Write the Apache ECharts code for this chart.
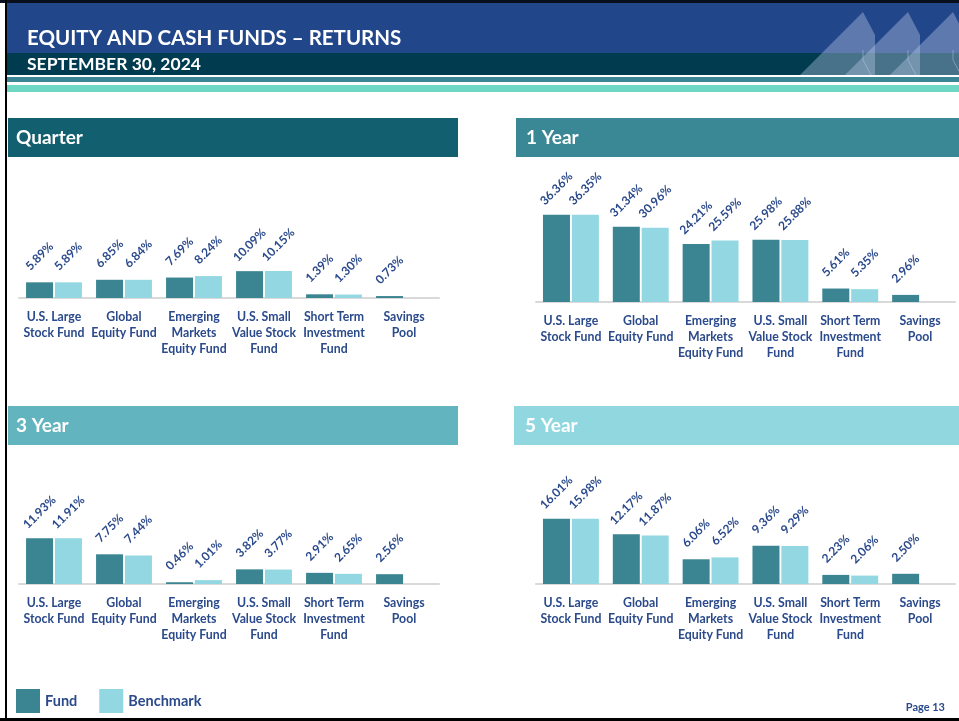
<!DOCTYPE html>
<html>
<head>
<meta charset="utf-8">
<script src="https://cdn.jsdelivr.net/npm/echarts@6/dist/echarts.min.js"></script>
<style>
html,body{margin:0;padding:0;background:#fff;}
#main{width:959px;height:721px;}
</style>
</head>
<body>
<div id="main"></div>
<script>
var categories = ['U.S. Large\nStock Fund', 'Global\nEquity Fund', 'Emerging\nMarkets\nEquity Fund', 'U.S. Small\nValue Stock\nFund', 'Short Term\nInvestment\nFund', 'Savings\nPool'];
var quarterFund = [5.89, 6.85, 7.69, 10.09, 1.39, 0.73];
var quarterBench = [5.89, 6.84, 8.24, 10.15, 1.30, '-'];
var oneYearFund = [36.36, 31.34, 24.21, 25.98, 5.61, 2.96];
var oneYearBench = [36.35, 30.96, 25.59, 25.88, 5.35, '-'];
var threeYearFund = [11.93, 7.75, 0.46, 3.82, 2.91, 2.56];
var threeYearBench = [11.91, 7.44, 1.01, 3.77, 2.65, '-'];
var fiveYearFund = [16.01, 12.17, 6.06, 9.36, 2.23, 2.50];
var fiveYearBench = [15.98, 11.87, 6.52, 9.29, 2.06, '-'];
var panelTitles = ['Quarter', '1 Year', '3 Year', '5 Year'];

var dom = document.getElementById('main');
var myChart = echarts.init(dom);
var txtColor = '#2B4A8B';
var fundColor = '#3A8591';
var benchColor = '#92D7E1';
var font = 'Lato, "Open Sans", sans-serif';

// panel layout: header rect, grid box, y max
var panels = [
    {hx: 8, hy: 118, hw: 450, hc: '#125F70', tx: 16, grid: {left: 19, width: 420, top: 165, height: 133}, max: 50, fund: quarterFund, bench: quarterBench},
    {hx: 516, hy: 118, hw: 443, hc: '#3A8795', tx: 526, grid: {left: 536, width: 419, top: 206, height: 96}, max: 40, fund: oneYearFund, bench: oneYearBench},
    {hx: 8, hy: 406, hw: 450, hc: '#62B4BE', tx: 16, grid: {left: 19, width: 420, top: 469, height: 115}, max: 30, fund: threeYearFund, bench: threeYearBench},
    {hx: 514, hy: 406, hw: 445, hc: '#90D7E0', tx: 525, grid: {left: 536, width: 419, top: 482, height: 102}, max: 25, fund: fiveYearFund, bench: fiveYearBench}
];

var grids = [], xAxes = [], yAxes = [], series = [];
var graphics = [
    {type: 'rect', shape: {x: 0, y: 0, width: 959, height: 3}, style: {fill: '#0A0F1E'}, z: 0},
    {type: 'rect', shape: {x: 7, y: 3, width: 952, height: 50}, style: {fill: '#22468A'}, z: 0},
    {type: 'rect', shape: {x: 7, y: 53, width: 952, height: 22}, style: {fill: '#013B4F'}, z: 0},
    {type: 'rect', shape: {x: 7, y: 77, width: 952, height: 5}, style: {fill: '#3A8694'}, z: 0},
    {type: 'rect', shape: {x: 7, y: 85, width: 952, height: 7}, style: {fill: '#6ED8C4'}, z: 0},
    {type: 'rect', shape: {x: 5, y: 0, width: 2, height: 721}, style: {fill: '#000'}, z: 1},
    {type: 'rect', shape: {x: 0, y: 718, width: 959, height: 3}, style: {fill: '#000'}, z: 1},
    {type: 'text', x: 27, y: 38, z: 2, style: {text: 'EQUITY AND CASH FUNDS – RETURNS', fill: '#fff', font: 'bold 20.5px ' + font, verticalAlign: 'middle'}},
    {type: 'text', x: 27, y: 64, z: 2, style: {text: 'SEPTEMBER 30, 2024', fill: '#fff', font: 'bold 17.5px ' + font, verticalAlign: 'middle'}},
    {type: 'text', x: 945, y: 707, z: 2, style: {text: 'Page 13', fill: txtColor, font: 'bold 11px ' + font, align: 'right', verticalAlign: 'middle'}}
];
// logo shapes
[863, 908, 953].forEach(function (p) {
    graphics.push({type: 'polygon', z: 1, shape: {points: [[p - 63, 75], [p, 12], [p + 12, 35], [p + 12, 75]]},
        style: {fill: 'rgba(190,205,235,0.38)'}});
    graphics.push({type: 'polyline', z: 1, shape: {points: [[p, 50], [p, 60], [p + 8, 75]]},
        style: {stroke: 'rgba(190,205,235,0.45)', lineWidth: 1, fill: null}});
});

panels.forEach(function (p, i) {
    graphics.push({type: 'rect', z: 0, shape: {x: p.hx, y: p.hy, width: p.hw, height: 39}, style: {fill: p.hc}});
    graphics.push({type: 'text', z: 2, x: p.tx, y: p.hy + 20, style: {text: panelTitles[i], fill: '#fff', font: 'bold 19px ' + font, verticalAlign: 'middle'}});
    grids.push(p.grid);
    xAxes.push({
        type: 'category', gridIndex: i, data: categories,
        axisLine: {lineStyle: {color: '#D9D9D9', width: 2}},
        axisTick: {show: false},
        axisLabel: {interval: 0, margin: 11, color: txtColor, fontFamily: font, fontWeight: 'bold', fontSize: 12.3, lineHeight: 16}
    });
    yAxes.push({type: 'value', gridIndex: i, min: 0, max: p.max, show: false, splitLine: {show: false}});
    var lbl = {
        show: true, position: 'top', distance: 26, rotate: 45,
        align: 'center', verticalAlign: 'middle',
        color: txtColor, fontFamily: font, fontWeight: 'bold', fontSize: 12,
        formatter: function (d) { return d.value.toFixed(2) + '%'; }
    };
    series.push({name: 'Fund', type: 'bar', xAxisIndex: i, yAxisIndex: i, data: p.fund,
        barWidth: 27, barGap: '7%', itemStyle: {color: fundColor}, label: lbl});
    series.push({name: 'Benchmark', type: 'bar', xAxisIndex: i, yAxisIndex: i, data: p.bench,
        barWidth: 27, barGap: '7%', itemStyle: {color: benchColor}, label: lbl});
});

var option = {
    animation: false,
    backgroundColor: '#fff',
    graphic: graphics,
    legend: {
        data: ['Fund', 'Benchmark'], left: 16, top: 689, padding: 0, itemWidth: 24, itemHeight: 24, itemGap: 22,
        icon: 'rect', selectedMode: false,
        textStyle: {color: txtColor, fontFamily: font, fontWeight: 'bold', fontSize: 14.5}
    },
    grid: grids,
    xAxis: xAxes,
    yAxis: yAxes,
    series: series
};
myChart.setOption(option, true);
</script>
</body>
</html>
